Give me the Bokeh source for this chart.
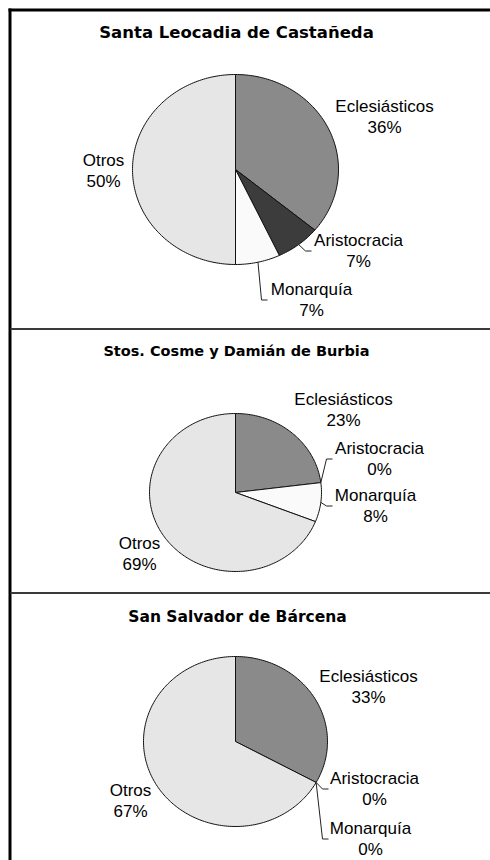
import numpy as np
from bokeh.plotting import figure
from bokeh.models import Range1d
from bokeh.embed import file_html
from bokeh.resources import INLINE
from bokeh.core.properties import value

# ---------------- data ----------------
titles = ["Santa Leocadia de Castañeda",
          "Stos. Cosme y Damián de Burbia",
          "San Salvador de Bárcena"]
categories = ["Eclesiásticos", "Aristocracia", "Monarquía", "Otros"]
values_1 = [36, 7, 7, 50]
values_2 = [23, 0, 8, 69]
values_3 = [33, 0, 0, 67]
all_values = [values_1, values_2, values_3]

# ---------------- styles / layout ----------------
colors = ["#8a8a8a", "#3c3c3c", "#fafafa", "#e6e6e6"]
FONT = "Liberation Sans"
TITLE_FONT = "DejaVu Sans"
W, H = 490, 860

# per panel: pie centre, radii, title pos, title size
panels = [
    dict(cx=235, cy=169, rx=103, ry=95, tx=236, ty=32, ts="16.5px"),
    dict(cx=235, cy=492, rx=86, ry=79, tx=236, ty=350, ts="14.5px"),
    dict(cx=235, cy=741, rx=92, ry=85, tx=237, ty=616, ts="15.5px"),
]
# label centres (x, y of first line) and leader end x (None = no leader)
label_pos = [
    [(384, 106, None), (358, 240, 313), (311, 289, 269), (103, 160, None)],
    [(343, 399, None), (379, 448, 334), (375, 495, 334), (139, 543, None)],
    [(368, 676, None), (374, 778, 330), (370, 828, 330), (130, 790, None)],
]
LINE_GAP = 21

p = figure(width=W, height=H, output_backend="svg", toolbar_location=None,
           x_range=Range1d(0, W), y_range=Range1d(H, 0),
           min_border=0, x_axis_type=None, y_axis_type=None)
p.grid.visible = False
p.outline_line_color = None
p.background_fill_color = "white"
p.border_fill_color = "white"

# borders
p.line(x=[9.5, 9.5], y=[8, H], line_color="black", line_width=3)
p.line(x=[8, W], y=[9.5, 9.5], line_color="black", line_width=3)
for yy in [328.5, 592.5]:
    p.line(x=[10, W], y=[yy, yy], line_color="#3a3a3a", line_width=2)

for pi, (pan, vals) in enumerate(zip(panels, all_values)):
    cx, cy, rx, ry = pan["cx"], pan["cy"], pan["rx"], pan["ry"]
    total = float(sum(vals))
    cum = np.concatenate([[0.0], np.cumsum(vals)]) / total * 2 * np.pi
    xs, ys, cols = [], [], []
    for i, v in enumerate(vals):
        if v <= 0:
            continue
        t = np.linspace(cum[i], cum[i + 1], max(int(v * 3), 8))
        xs.append(list(np.concatenate([[cx], cx + rx * np.sin(t), [cx]])))
        ys.append(list(np.concatenate([[cy], cy - ry * np.cos(t), [cy]])))
        cols.append(colors[i])
    p.patches(xs=xs, ys=ys, fill_color=cols, line_color="#111111", line_width=1)

    # title
    p.text(x=[pan["tx"]], y=[pan["ty"]], text=[titles[pi]],
           text_font=value(TITLE_FONT), text_font_style="bold",
           text_font_size=pan["ts"], text_align="center",
           text_baseline="middle", text_color="black")

    # labels
    lx, ly, lt = [], [], []
    for i, cat in enumerate(categories):
        x, y, lead = label_pos[pi][i]
        lx += [x, x]
        ly += [y, y + LINE_GAP]
        lt += [cat, f"{vals[i]}%"]
        if lead is not None:
            mid = (cum[i] + cum[i + 1]) / 2
            sx = cx + rx * np.sin(mid)
            sy = cy - ry * np.cos(mid)
            by = y + LINE_GAP / 2
            p.line(x=[sx, lead - 8, lead - 2], y=[sy, by, by],
                   line_color="#222222", line_width=1)
    p.text(x=lx, y=ly, text=lt, text_font=value(FONT),
           text_font_size="17px", text_align="center",
           text_baseline="middle", text_color="black")

open("out.html", "w").write(file_html(p, INLINE))
